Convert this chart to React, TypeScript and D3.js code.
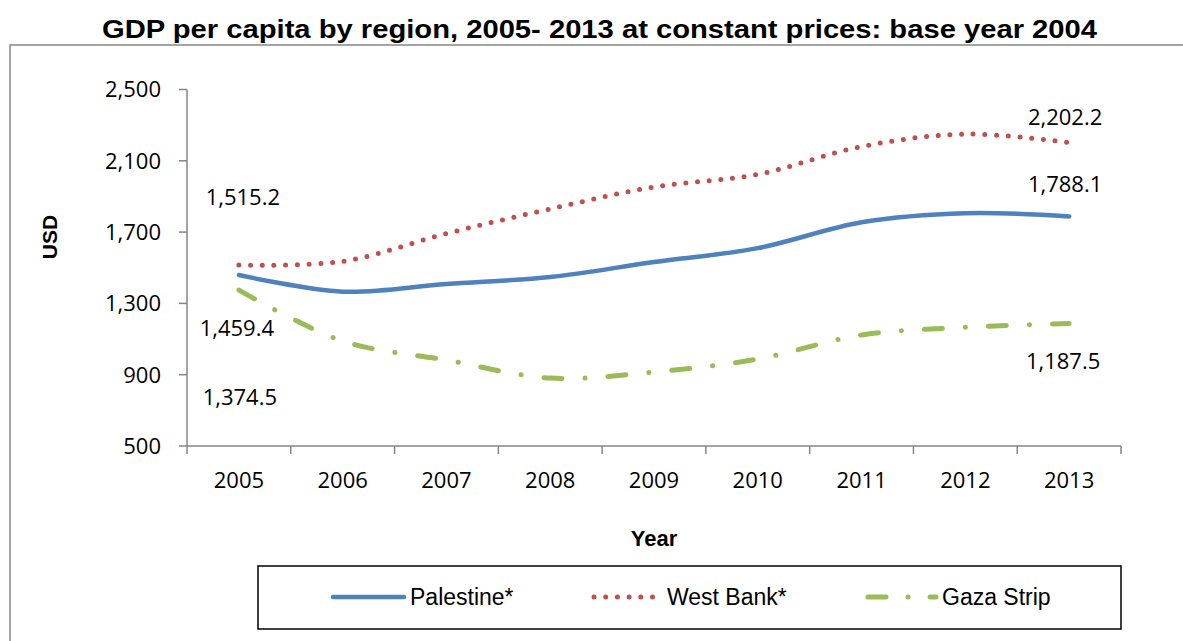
import * as d3 from 'd3';

const years = ['2005', '2006', '2007', '2008', '2009', '2010', '2011', '2012', '2013'];
const palestine = [1459.4, 1366, 1409, 1448, 1532, 1610, 1755, 1806, 1788.1];
const westBank = [1515.2, 1536, 1692, 1830, 1953, 2024, 2180, 2250, 2202.2];
const gaza = [1374.5, 1089, 982, 881, 915, 988, 1123, 1166, 1187.5];
const yTicks = [500, 900, 1300, 1700, 2100, 2500];

const W = 1183;
const H = 641;
const numFont = '"Open Sans", sans-serif';
const arial = '"Liberation Sans", Arial, sans-serif';

const series = [
  { name: 'Palestine*', values: palestine, color: '#4F81BD', dash: null as string | null, legendDash: null as string | null, width: 4.5 },
  { name: 'West Bank*', values: westBank, color: '#C0504D', dash: '0 11.7', legendDash: '0 11.7', width: 5 },
  { name: 'Gaza Strip', values: gaza, color: '#9BBB59', dash: '18 23 0.1 23', legendDash: '18 22 0.1 22', width: 5 },
];

// data labels: series index, point index, offset from the point
const dataLabels = [
  { s: 1, i: 0, dx: 4, dy: -60 },
  { s: 0, i: 0, dx: -2, dy: 61 },
  { s: 2, i: 0, dx: 1, dy: 115 },
  { s: 1, i: 8, dx: -4, dy: -18 },
  { s: 0, i: 8, dx: -4, dy: -24 },
  { s: 2, i: 8, dx: -6, dy: 46 },
];

const fmt = d3.format(',.1f');

export default function App() {
  const x = d3.scaleBand<string>().domain(years).range([187, 1121]).padding(0);
  const y = d3.scaleLinear().domain([500, 2500]).range([446, 89.5]);
  const cx = (i: number) => (x(years[i]) ?? 0) + x.bandwidth() / 2;

  const line = d3
    .line<number>()
    .x((_, i) => cx(i))
    .y((d) => y(d))
    .curve(d3.curveCatmullRom.alpha(0.5));

  const axisColor = '#868686';
  const legendItems = [
    { x0: 333, x1: 404, tx: 410 },
    { x0: 594, x1: 656, tx: 667 },
    { x0: 868, x1: 936, tx: 942 },
  ];

  return (
    <div style={{ position: 'absolute', left: 0, top: 0 }}>
      <svg width={W} height={H} style={{ display: 'block', background: '#fff' }}>
        {/* outer frame */}
        <path d={`M10,${H + 5}V45H${W + 5}`} fill="none" stroke={axisColor} strokeWidth={1.5} />

        <text
          x={102}
          y={38}
          fontFamily={arial}
          fontWeight="bold"
          fontSize={25}
          textLength={995}
          lengthAdjust="spacingAndGlyphs"
        >
          GDP per capita by region, 2005- 2013 at constant prices: base year 2004
        </text>

        {/* y axis */}
        <line x1={187} x2={187} y1={y(2500)} y2={y(500)} stroke={axisColor} strokeWidth={1.5} />
        {yTicks.map((t) => (
          <g key={t}>
            <line x1={179} x2={187} y1={y(t)} y2={y(t)} stroke={axisColor} strokeWidth={1.5} />
            <text x={161} y={y(t)} dy="0.36em" textAnchor="end" fontFamily={numFont} fontSize={22}>
              {d3.format(',')(t)}
            </text>
          </g>
        ))}

        {/* x axis */}
        <line x1={187} x2={1121} y1={y(500)} y2={y(500)} stroke={axisColor} strokeWidth={1.5} />
        {[...years.map((yr) => x(yr) ?? 0), 1121].map((px, i) => (
          <line key={i} x1={px} x2={px} y1={y(500)} y2={y(500) + 8} stroke={axisColor} strokeWidth={1.5} />
        ))}
        {years.map((yr, i) => (
          <text key={yr} x={cx(i)} y={488} textAnchor="middle" fontFamily={numFont} fontSize={22}>
            {yr}
          </text>
        ))}

        <text x={654} y={546} textAnchor="middle" fontFamily={arial} fontWeight="bold" fontSize={22}>
          Year
        </text>
        <text
          transform="translate(57,237) rotate(-90)"
          textAnchor="middle"
          fontFamily={arial}
          fontWeight="bold"
          fontSize={21}
        >
          USD
        </text>

        {/* series */}
        {series.map((s) => (
          <path
            key={s.name}
            d={line(s.values) ?? ''}
            fill="none"
            stroke={s.color}
            strokeWidth={s.width}
            strokeLinecap="round"
            strokeLinejoin="round"
            strokeDasharray={s.dash ?? undefined}
          />
        ))}

        {/* data labels */}
        {dataLabels.map((l, k) => {
          const v = series[l.s].values[l.i];
          return (
            <text
              key={k}
              x={cx(l.i) + l.dx}
              y={y(v) + l.dy}
              textAnchor="middle"
              fontFamily={numFont}
              fontSize={22}
            >
              {fmt(v)}
            </text>
          );
        })}

        {/* legend */}
        <rect x={258} y={566} width={863} height={63} fill="#fff" stroke="#000" strokeWidth={1.5} />
        {series.map((s, i) => (
          <g key={s.name}>
            <line
              x1={legendItems[i].x0}
              x2={legendItems[i].x1}
              y1={597}
              y2={597}
              stroke={s.color}
              strokeWidth={s.width}
              strokeLinecap="round"
              strokeDasharray={s.legendDash ?? undefined}
            />
            <text x={legendItems[i].tx} y={605} fontFamily={arial} fontSize={23}>
              {s.name}
            </text>
          </g>
        ))}
      </svg>
    </div>
  );
}
